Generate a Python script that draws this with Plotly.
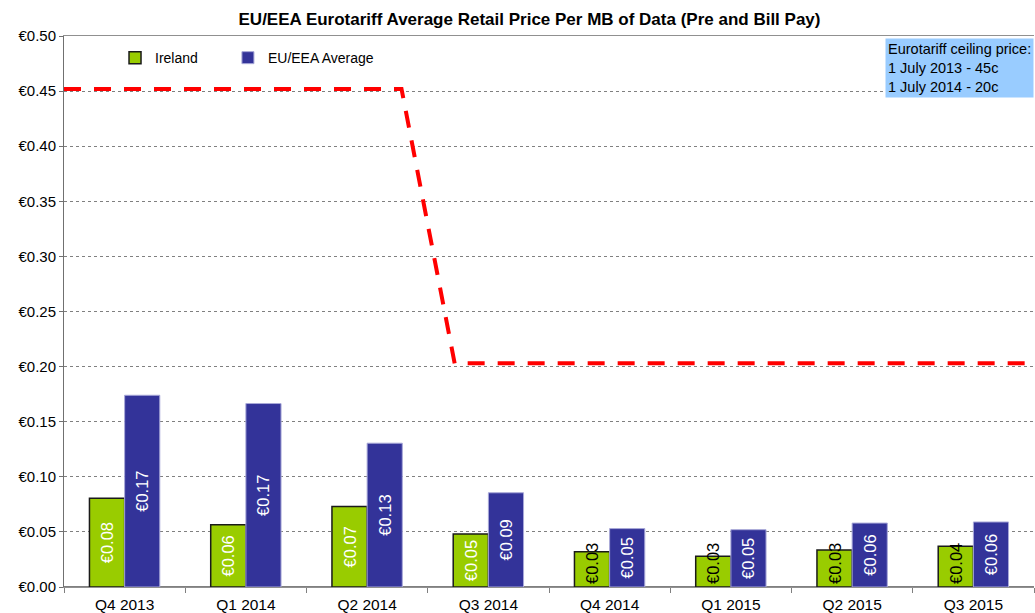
import plotly.graph_objects as go

# quarters on the x axis
quarters = ["Q4 2013", "Q1 2014", "Q2 2014", "Q3 2014",
            "Q4 2014", "Q1 2015", "Q2 2015", "Q3 2015"]

# average retail price per MB (EUR)
ireland = [0.0805, 0.0565, 0.073, 0.048, 0.032, 0.028, 0.0335, 0.037]
eu_eea = [0.174, 0.1665, 0.1305, 0.0855, 0.053, 0.052, 0.058, 0.059]

# eurotariff ceiling (dashed red line), by date
ceiling_dates = ["2013-10-01", "2014-06-12", "2014-07-22", "2015-10-01"]
ceiling_price = [0.452, 0.452, 0.203, 0.203]

FONT = "Liberation Sans, Arial, sans-serif"

# tall bars: white label centred; short bars: black label sitting on the base
big = [v >= 0.045 for v in ireland]
ire_big_text = ["€%.2f" % v if b else "" for v, b in zip(ireland, big)]
ire_small_text = ["" if b else "€%.2f" % v for v, b in zip(ireland, big)]

fig = go.Figure()

fig.add_trace(go.Bar(
    x=quarters, y=ireland, name="Ireland", legend="legend", offsetgroup="ire",
    marker=dict(color="#99CC00", line=dict(color="#1a1a1a", width=1.5)),
    text=ire_big_text, textposition="inside", insidetextanchor="middle",
    textangle=-90, constraintext="none",
    textfont=dict(family=FONT, size=16.5, color="white"),
))
# transparent twin of the Ireland bars, only carrying the short-bar labels
fig.add_trace(go.Bar(
    x=quarters, y=ireland, offsetgroup="ire", showlegend=False, hoverinfo="skip",
    marker=dict(color="rgba(0,0,0,0)", line=dict(width=0)),
    text=ire_small_text, textposition="inside", insidetextanchor="start",
    textangle=-90, constraintext="none", cliponaxis=False,
    textfont=dict(family=FONT, size=16.5, color="black"),
))
fig.add_trace(go.Bar(
    x=quarters, y=eu_eea, name="EU/EEA Average", legend="legend2", offsetgroup="eu",
    marker=dict(color="#333399", line=dict(color="#A8A8D8", width=1)),
    texttemplate="€%{y:.2f}", textposition="inside", insidetextanchor="middle",
    textangle=-90, constraintext="none",
    textfont=dict(family=FONT, size=16.5, color="white"),
))
fig.add_trace(go.Scatter(
    x=ceiling_dates, y=ceiling_price, xaxis="x2", mode="lines",
    line=dict(color="#FF0000", width=4, dash="17px,13px"),
    showlegend=False, hoverinfo="skip",
))

leg = dict(orientation="h", y=0.989, xanchor="left", yanchor="top",
           bgcolor="rgba(0,0,0,0)", font=dict(family=FONT, size=14))

fig.update_layout(
    width=1035, height=613,
    margin=dict(l=64, r=1, t=36, b=26),
    paper_bgcolor="white", plot_bgcolor="white",
    font=dict(family=FONT, size=15, color="black"),
    title=dict(text="<b>EU/EEA Eurotariff Average Retail Price Per MB of Data (Pre and Bill Pay)</b>",
               x=529.5 / 1035, xanchor="center", y=1 - 19 / 613, yanchor="middle",
               font=dict(family=FONT, size=17, color="black")),
    barmode="group", bargap=0.42, bargroupgap=0,
    legend=dict(leg, x=0.0526),
    legend2=dict(leg, x=0.169),
    xaxis=dict(type="category", showline=True, linecolor="#909090", linewidth=1,
               mirror=True, ticks="outside", tickson="boundaries", ticklen=5,
               tickcolor="#808080", showgrid=False, automargin=False,
               ticklabelstandoff=3,
               tickfont=dict(family=FONT, size=15.5)),
    xaxis2=dict(type="date", overlaying="x", visible=False,
                range=["2013-10-01", "2015-10-01"]),
    yaxis=dict(range=[0, 0.5], dtick=0.05, tickprefix="€", tickformat=".2f",
               showgrid=True, gridcolor="#808080", griddash="dot", gridwidth=1,
               showline=True, linecolor="#707070", linewidth=1,
               ticks="outside", ticklen=4, tickcolor="#707070", automargin=False,
               zeroline=True, zerolinecolor="#808080", zerolinewidth=2,
               tickfont=dict(family=FONT, size=15)),
    annotations=[dict(
        text="Eurotariff ceiling price:<br>1 July 2013 - 45c<br>1 July 2014 - 20c",
        xref="paper", yref="paper", x=1, y=1, xanchor="right", yanchor="top",
        yshift=-2, align="left", showarrow=False, bgcolor="#99CCFF", borderpad=2,
        font=dict(family=FONT, size=14.5, color="black"),
    )],
)

# page body has an 8px margin by default; drop it so the chart sits at 0,0
fig.write_html("out.html", config={"displayModeBar": False},
               post_script="document.body.style.margin='0';")
